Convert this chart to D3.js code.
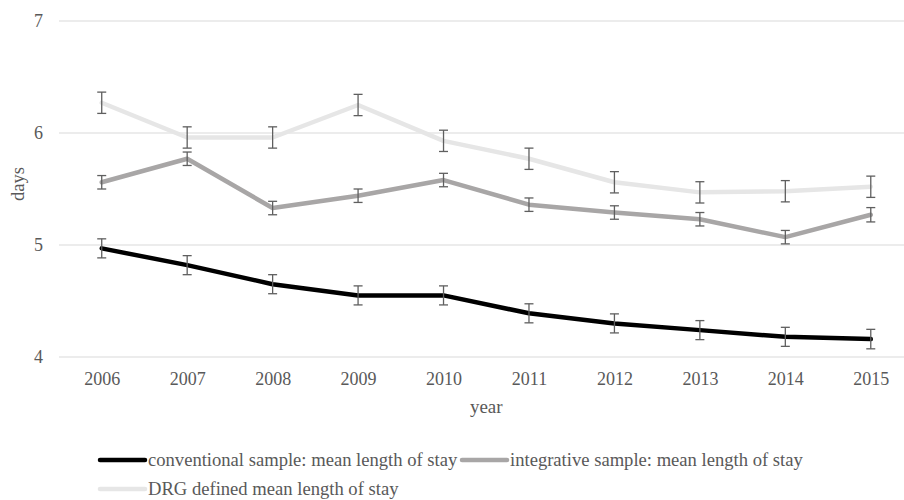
<!DOCTYPE html>
<html>
<head>
<meta charset="utf-8">
<script src="https://cdn.jsdelivr.net/npm/d3@7"></script>
<style>
  body { margin: 0; background: #fff; }
  svg { display: block; font-family: "Liberation Serif", "Times New Roman", serif; }
</style>
</head>
<body>
<svg id="chart"></svg>
<script>
const years = ["2006", "2007", "2008", "2009", "2010", "2011", "2012", "2013", "2014", "2015"]
const conventional = [4.97, 4.82, 4.65, 4.55, 4.55, 4.39, 4.30, 4.24, 4.18, 4.16]
const conventionalErr = [0.085, 0.085, 0.085, 0.085, 0.085, 0.085, 0.085, 0.085, 0.085, 0.087]
const integrative = [5.56, 5.77, 5.33, 5.44, 5.58, 5.36, 5.29, 5.23, 5.07, 5.27]
const integrativeErr = [0.06, 0.06, 0.06, 0.06, 0.06, 0.06, 0.06, 0.06, 0.06, 0.064]
const drg = [6.27, 5.96, 5.96, 6.25, 5.93, 5.77, 5.56, 5.47, 5.48, 5.52]
const drgErr = [0.095, 0.095, 0.095, 0.095, 0.095, 0.095, 0.095, 0.095, 0.095, 0.095]
const yTicks = [4, 5, 6, 7]
const seriesNames = ["conventional sample: mean length of stay", "integrative sample: mean length of stay", "DRG defined mean length of stay"]

const series = [
  { name: seriesNames[0], values: conventional, err: conventionalErr, color: "#000000" },
  { name: seriesNames[1], values: integrative, err: integrativeErr, color: "#a8a6a6" },
  { name: seriesNames[2], values: drg, err: drgErr, color: "#e6e6e6" }
]

const dimensions = { width: 904, height: 500 }
const textColor = "#595959"

const svg = d3.select("#chart")
  .attr("width", dimensions.width)
  .attr("height", dimensions.height)

const x = d3.scalePoint()
  .domain(years)
  .range([59, 913.5])
  .padding(0.5)

const y = d3.scaleLinear()
  .domain([4, 7])
  .range([357, 21])

// gridlines
svg.append("g")
  .selectAll("line")
  .data(yTicks)
  .enter().append("line")
  .attr("x1", 59)
  .attr("x2", 913.5)
  .attr("y1", d => y(d))
  .attr("y2", d => y(d))
  .attr("stroke", "#d9d9d9")
  .attr("stroke-width", 1)

// y axis labels
const yAxis = svg.append("g")
  .attr("transform", "translate(49,0)")
  .call(d3.axisLeft(y).tickValues(yTicks).tickSize(0).tickPadding(6).tickFormat(d3.format("d")))
yAxis.select(".domain").remove()
yAxis.selectAll("text")
  .attr("fill", textColor)
  .style("font-size", "18px")
  .style("font-family", "Liberation Serif")

// x axis labels
const xAxis = svg.append("g")
  .attr("transform", "translate(0,357)")
  .call(d3.axisBottom(x).tickSize(0).tickPadding(15))
xAxis.select(".domain").remove()
xAxis.selectAll("text")
  .attr("fill", textColor)
  .style("font-size", "18px")
  .style("font-family", "Liberation Serif")

// axis titles
svg.append("text")
  .attr("x", (59 + 913.5) / 2)
  .attr("y", 413)
  .attr("text-anchor", "middle")
  .attr("fill", textColor)
  .style("font-size", "19px")
  .text("year")

svg.append("text")
  .attr("transform", "translate(24,184) rotate(-90)")
  .attr("text-anchor", "middle")
  .attr("fill", textColor)
  .style("font-size", "18.5px")
  .text("days")

// lines
const line = d3.line()
  .x((d, i) => x(years[i]))
  .y(d => y(d))

series.forEach(s => {
  svg.append("path")
    .datum(s.values)
    .attr("d", line)
    .attr("fill", "none")
    .attr("stroke", s.color)
    .attr("stroke-width", 4.5)
    .attr("stroke-linejoin", "round")
    .attr("stroke-linecap", "round")
})

// error bars
series.forEach(s => {
  const g = svg.append("g")
    .attr("stroke", "#5f5f5f")
    .attr("stroke-width", 1.3)
  s.values.forEach((v, i) => {
    const cx = x(years[i])
    const top = y(v + s.err[i])
    const bottom = y(v - s.err[i])
    g.append("line").attr("x1", cx).attr("x2", cx).attr("y1", top).attr("y2", bottom)
    g.append("line").attr("x1", cx - 4.5).attr("x2", cx + 4.5).attr("y1", top).attr("y2", top)
    g.append("line").attr("x1", cx - 4.5).attr("x2", cx + 4.5).attr("y1", bottom).attr("y2", bottom)
  })
})

// legend
const legendPos = [
  { lx: 100, ly: 460 },
  { lx: 462, ly: 460 },
  { lx: 100, ly: 489 }
]
series.forEach((s, i) => {
  const p = legendPos[i]
  svg.append("line")
    .attr("x1", p.lx)
    .attr("x2", p.lx + 45)
    .attr("y1", p.ly)
    .attr("y2", p.ly)
    .attr("stroke", s.color)
    .attr("stroke-width", 4.5)
    .attr("stroke-linecap", "round")
  svg.append("text")
    .attr("x", p.lx + 48)
    .attr("y", p.ly + 6)
    .attr("fill", textColor)
    .style("font-size", "18.6px")
    .text(s.name)
})
</script>
</body>
</html>
